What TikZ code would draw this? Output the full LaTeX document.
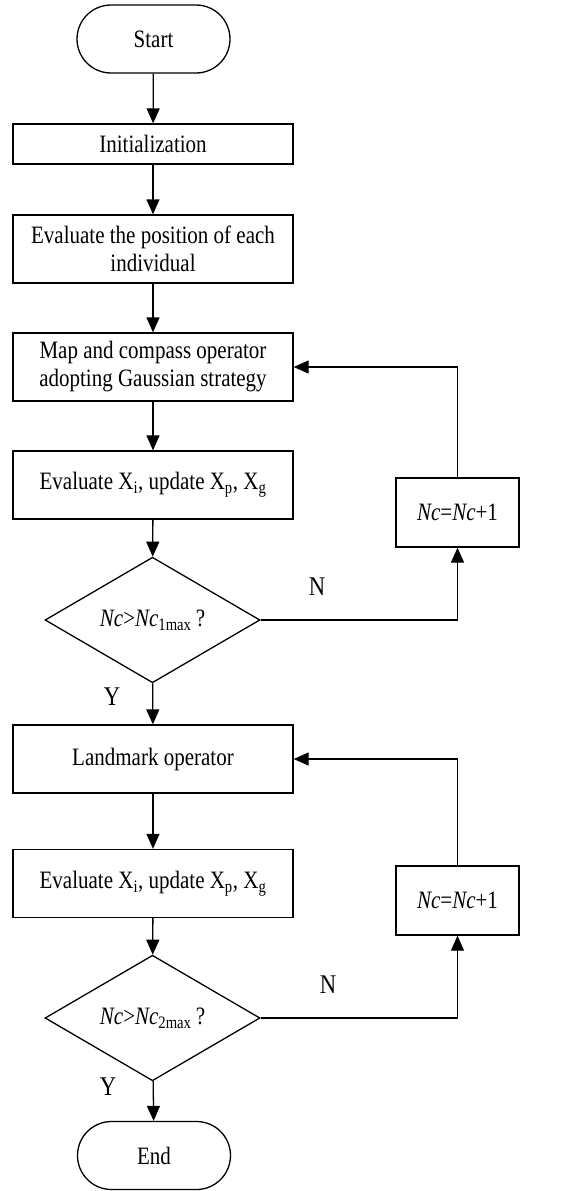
\documentclass[tikz,border=0pt]{standalone}
\usepackage{fontspec}
\setmainfont{Liberation Serif}[FakeStretch=0.84]
\usetikzlibrary{arrows.meta,shapes.geometric,shapes.misc}
\begin{document}
\begin{tikzpicture}[x=1pt,y=-1pt,
  every node/.style={font=\fontsize{25}{28}\selectfont},
  base/.style={draw, line width=1.3pt, inner sep=0pt, align=center},
  procbox/.style={base, rectangle, minimum width=280pt, minimum height=68pt},
  termbox/.style={base, rounded rectangle, minimum width=153pt, minimum height=68pt},
  decbox/.style={base, diamond, minimum width=215pt, minimum height=100pt},
  incbox/.style={base, rectangle, minimum width=123pt, minimum height=69pt},
  lbl/.style={inner sep=0pt, font=\fontsize{27}{28}\selectfont},
  arr/.style={line width=1.3pt, -{Triangle[width=13pt,length=15pt]}}
]
\useasboundingbox (0,0) rectangle (582,1191);
\node[termbox] (start) at (153.5,39) {Start};
\node[procbox, minimum height=40pt] (init) at (153,144) {Initialization};
\node[procbox] (evalpos) at (153,249) {Evaluate the position of each\\individual};
\node[procbox] (map) at (153,367) {Map and compass operator\\adopting Gaussian strategy};
\node[procbox] (evalA) at (153,485) {Evaluate X\textsubscript{i}, update X\textsubscript{p}, X\textsubscript{g}};
\node[decbox] (decA) at (152.5,620) {\textit{Nc}>\textit{Nc}\textsubscript{1max}\,?};
\node[incbox] (incA) at (457.5,512.5) {\textit{Nc}=\textit{Nc}+1};
\node[procbox] (land) at (153,759) {Landmark operator};
\node[procbox] (evalB) at (153,883.5) {Evaluate X\textsubscript{i}, update X\textsubscript{p}, X\textsubscript{g}};
\node[decbox] (decB) at (152.5,1018) {\textit{Nc}>\textit{Nc}\textsubscript{2max}\,?};
\node[incbox] (incB) at (457.5,900.5) {\textit{Nc}=\textit{Nc}+1};
\node[termbox] (finish) at (154,1155.5) {End};

\draw[arr] (start) -- (init);
\draw[arr] (init) -- (evalpos);
\draw[arr] (evalpos) -- (map);
\draw[arr] (map) -- (evalA);
\draw[arr] (evalA) -- (decA);
\draw[arr] (decA) -- (land);
\draw[arr] (land) -- (evalB);
\draw[arr] (evalB) -- (decB);
\draw[arr] (decB) -- (finish);
\draw[arr] (decA.east) -| (incA.south);
\draw[arr] (incA.north) |- (map.east);
\draw[arr] (decB.east) -| (incB.south);
\draw[arr] (incB.north) |- (land.east);

\node[lbl] (nA) at (317,587) {N};
\node[lbl] (yA) at (112,697) {Y};
\node[lbl] (nB) at (328,985) {N};
\node[lbl] (yB) at (108,1087) {Y};
\end{tikzpicture}
\end{document}
